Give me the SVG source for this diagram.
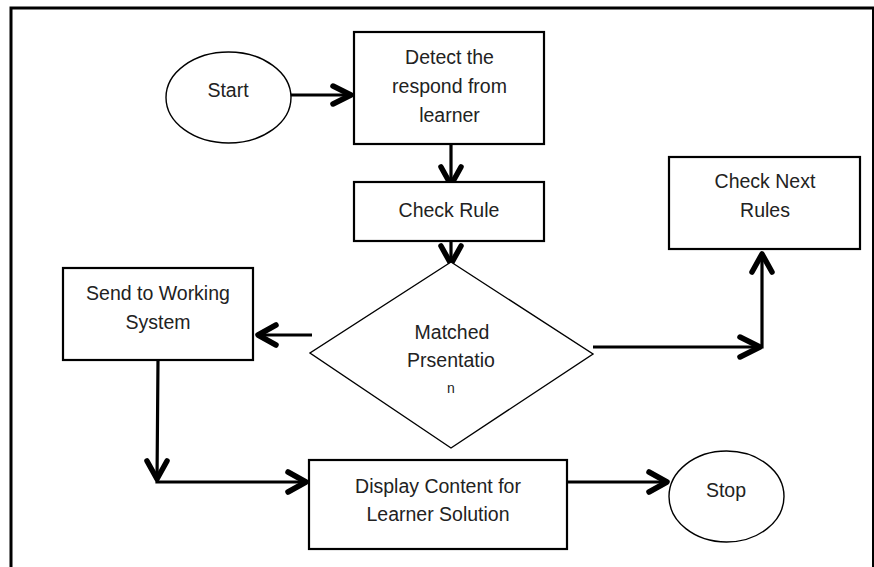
<svg xmlns="http://www.w3.org/2000/svg" width="874" height="567" viewBox="0 0 874 567">
<style>
.box{fill:#fff;stroke:#000;stroke-width:2.2}
.thin{fill:#fff;stroke:#000;stroke-width:1.4}
.t{font-family:"Liberation Sans",Arial,sans-serif;font-size:19.5px;fill:#222;text-anchor:middle}
.line{fill:none;stroke:#000;stroke-width:3.2}
.head{fill:none;stroke:#000;stroke-width:5.5;stroke-linecap:round;stroke-linejoin:round}
.frame{fill:none;stroke:#000;stroke-width:3}
</style>
<rect width="874" height="567" fill="#fff"/>
<path class="frame" d="M11,567 V8 H873.5 V567"/>
<g id="connectors">
<path class="line" d="M291,95 H351"/>
<path class="head" d="M333,86 L351,95 L333,104"/>
<path class="line" d="M451,144 V185"/>
<path class="head" d="M441,167 L451,185 L461,167"/>
<path class="line" d="M451,241 V262"/>
<path class="head" d="M441,246 L451,264 L461,246"/>
<path class="line" d="M312,335 H257"/>
<path class="head" d="M276,325 L258,335 L276,345"/>
<path class="line" d="M593,347 H762 V253"/>
<path class="head" d="M740,337 L760,347 L740,357"/>
<path class="head" d="M752,272 L762,254 L772,272"/>
<path class="line" d="M158,360 L157,482 H306"/>
<path class="head" d="M147,461 L157,479 L167,461"/>
<path class="head" d="M288,472 L306,482 L288,492"/>
<path class="line" d="M567,482 H667"/>
<path class="head" d="M649,472 L667,482 L649,492"/>
</g>
<g id="start">
<ellipse class="thin" cx="228.5" cy="97.5" rx="62.5" ry="45.5"/>
<text class="t" x="228" y="97">Start</text>
</g>
<g id="detect">
<rect class="box" x="354" y="32" width="190" height="112"/>
<text class="t" x="449.5" y="64">Detect the</text>
<text class="t" x="449.5" y="93">respond from</text>
<text class="t" x="449.5" y="122">learner</text>
</g>
<g id="checkrule">
<rect class="box" x="354" y="182" width="190" height="59"/>
<text class="t" x="449" y="217">Check Rule</text>
</g>
<g id="matched">
<polygon class="thin" points="451,262 593,354 451,448 310,353"/>
<text class="t" x="452" y="339">Matched</text>
<text class="t" x="451" y="367">Prsentatio</text>
<text class="t" x="451" y="393" style="font-size:14px">n</text>
</g>
<g id="checknext">
<rect class="box" x="669" y="157" width="191" height="92"/>
<text class="t" x="765" y="188">Check Next</text>
<text class="t" x="765" y="217">Rules</text>
</g>
<g id="sendworking">
<rect class="box" x="63" y="268" width="190" height="92"/>
<text class="t" x="158" y="300">Send to Working</text>
<text class="t" x="158" y="329">System</text>
</g>
<g id="display">
<rect class="box" x="309" y="460" width="258" height="89"/>
<text class="t" x="438" y="493">Display Content for</text>
<text class="t" x="438" y="521">Learner Solution</text>
</g>
<g id="stop">
<ellipse class="thin" cx="726.5" cy="496.5" rx="57.5" ry="45.5"/>
<text class="t" x="726" y="497">Stop</text>
</g>
</svg>
